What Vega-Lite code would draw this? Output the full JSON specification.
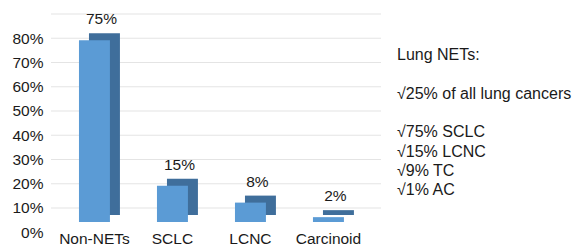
{
  "$schema": "https://vega.github.io/schema/vega-lite/v6.json",
  "autosize": {"type": "pad"},
  "padding": {"left": 11, "top": 12, "right": 0, "bottom": 0},
  "background": "white",
  "bounds": "flush",
  "spacing": 16,
  "config": {"view": {"stroke": null}, "font": "Liberation Sans"},
  "hconcat": [
    {
      "width": 330,
      "height": 194,
      "layer": [
        {
          "data": {"values": [{"g": 0}, {"g": 10}, {"g": 20}, {"g": 30}, {"g": 40}, {"g": 50}, {"g": 60}, {"g": 70}, {"g": 80}]},
          "mark": {"type": "rule", "yOffset": -14, "color": "#e4e4e4", "strokeWidth": 1.2},
          "encoding": {
            "y": {
              "field": "g", "type": "quantitative", "scale": {"domain": [0, 80]},
              "axis": {"title": null, "values": [0, 10, 20, 30, 40, 50, 60, 70, 80], "labelExpr": "datum.value + '%'", "labelFontSize": 15.5, "labelColor": "#1a1a1a", "labelPadding": 8, "labelOffset": 10, "domain": false, "ticks": false, "grid": false}
            }
          }
        },
        {
          "data": {"values": [
            {"type": "Non-NETs", "pct": 75, "label": "75%"},
            {"type": "SCLC", "pct": 15, "label": "15%"},
            {"type": "LCNC", "pct": 8, "label": "8%"},
            {"type": "Carcinoid", "pct": 2, "label": "2%"}
          ]},
          "encoding": {
            "x": {
              "field": "type", "type": "nominal", "sort": null,
              "scale": {"paddingInner": 0.603, "paddingOuter": 0.417, "align": 0.43},
              "axis": {"title": null, "labelAngle": 0, "labelFontSize": 15.5, "labelColor": "#1a1a1a", "labelPadding": 9, "domain": false, "ticks": false}
            },
            "y": {
              "field": "pct", "type": "quantitative",
              "scale": {"domain": [0, 80]},
              "axis": {"title": null, "values": [0, 10, 20, 30, 40, 50, 60, 70, 80], "labelExpr": "datum.value + '%'", "labelFontSize": 15.5, "labelColor": "#1a1a1a", "labelPadding": 8, "labelOffset": 10, "domain": false, "ticks": false, "grid": false}
            }
          },
          "layer": [
            {"mark": {"type": "bar", "xOffset": 10, "yOffset": -7, "color": "#3f6e9b"}},
            {"mark": {"type": "bar", "color": "#5b9bd5"}},
            {"mark": {"type": "text", "fontSize": 15.5, "dx": 7, "dy": -21, "baseline": "middle", "color": "#1a1a1a"}, "encoding": {"text": {"field": "label"}}}
          ]
        }
      ]
    },
    {
      "width": 176,
      "height": 194,
      "data": {"values": [
        {"line": 0, "note": "Lung NETs:"},
        {"line": 2, "note": "√25% of all lung cancers"},
        {"line": 4, "note": "√75% SCLC"},
        {"line": 5, "note": "√15% LCNC"},
        {"line": 6, "note": "√9% TC"},
        {"line": 7, "note": "√1% AC"}
      ]},
      "mark": {"type": "text", "align": "left", "baseline": "middle", "fontSize": 16, "color": "#1a1a1a"},
      "encoding": {
        "x": {"datum": 0, "type": "quantitative", "scale": {"domain": [0, 1]}, "axis": null},
        "y": {"field": "line", "type": "quantitative", "scale": {"domain": [-1.4, 8.65], "reverse": true, "nice": false, "zero": false}, "axis": null},
        "text": {"field": "note"}
      }
    }
  ]
}
